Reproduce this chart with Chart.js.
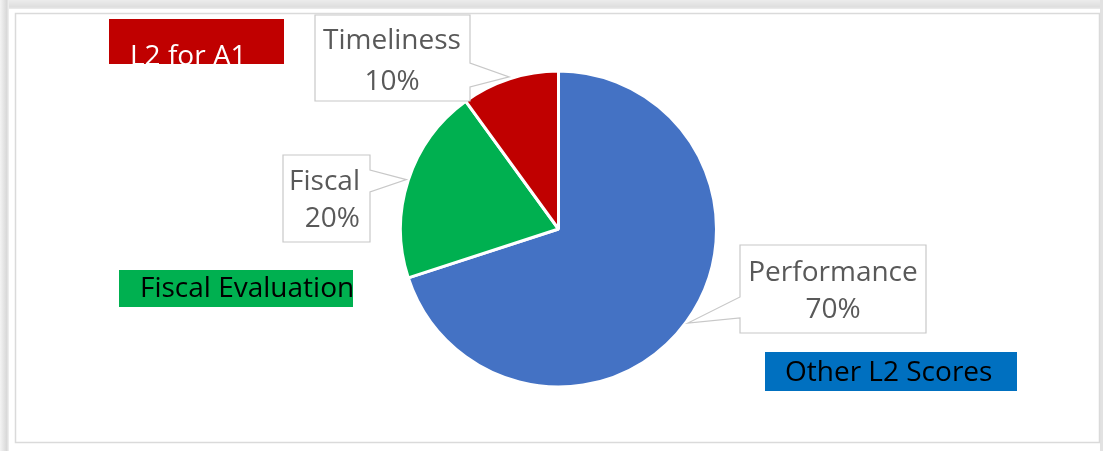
<!DOCTYPE html>
<html>
<head>
<meta charset="utf-8">
<script src="https://cdn.jsdelivr.net/npm/chart.js@4"></script>
<style>
  html, body { margin: 0; padding: 0; background: #ffffff; }
  #wrap { position: relative; width: 1103px; height: 451px; }
</style>
</head>
<body>
<div id="wrap"><canvas id="c" width="1103" height="451"></canvas></div>
<script>
// ---- data ----
const categories = ['Performance', 'Fiscal', 'Timeliness'];
const values = [70, 20, 10];
const sliceColors = ['#4472C4', '#00B050', '#C00000'];
const tagLabels = ['L2 for A1', 'Fiscal Evaluation', 'Other L2 Scores'];
const tagColors = ['#C00000', '#00B050', '#0070C0'];
const tagTextColors = ['#FFFFFF', '#000000', '#000000'];

// ---- layout (positions of annotation boxes) ----
const FONT = '28px "Open Sans"';
const calloutLayout = [
  { box: [740, 245, 926, 333], side: 'left',  wedge: [297, 318], align: 'center', x: 833, b1: 281, b2: 318 },
  { box: [283, 155, 370, 242], side: 'right', wedge: [170, 192], align: 'right',  x: 360, b1: 190, b2: 227 },
  { box: [315, 15, 470, 101],  side: 'right', wedge: [63, 87],   align: 'center', x: 392, b1: 49,  b2: 90 }
];
const tagLayout = [
  { box: [109, 19, 284, 64],  tx: 130, base: 65 },
  { box: [119, 270, 353, 307], tx: 140, base: 297 },
  { box: [765, 352, 1017, 391], tx: 785, base: 381 }
];

const framePlugin = {
  id: 'frame',
  beforeDraw(chart) {
    const ctx = chart.ctx;
    const W = chart.width, H = chart.height;
    ctx.save();
    ctx.fillStyle = '#ffffff';
    ctx.fillRect(0, 0, W, H);
    // top shadow
    let g = ctx.createLinearGradient(0, 0, 0, 10);
    g.addColorStop(0, '#ececec');
    g.addColorStop(0.7, '#dedede');
    g.addColorStop(1, '#f4f4f4');
    ctx.fillStyle = g;
    ctx.fillRect(0, 0, W, 9);
    // left shadow
    g = ctx.createLinearGradient(0, 0, 9, 0);
    g.addColorStop(0, '#f4f4f4');
    g.addColorStop(0.75, '#d8d8d8');
    g.addColorStop(1, '#f2f2f2');
    ctx.fillStyle = g;
    ctx.fillRect(0, 0, 9, H);
    // right shadow
    ctx.fillStyle = '#e2e2e2';
    ctx.fillRect(1100, 0, 3, H);
    // frame
    ctx.strokeStyle = '#dadada';
    ctx.lineWidth = 1.5;
    ctx.strokeRect(15.5, 13.5, 1084, 429);
    ctx.restore();
  },
  afterDatasetsDraw(chart) {
    const ctx = chart.ctx;
    const meta = chart.getDatasetMeta(0);
    const total = values.reduce((a, b) => a + b, 0);
    ctx.save();
    // colored tag boxes
    tagLabels.forEach((t, i) => {
      const L = tagLayout[i];
      const [x0, y0, x1, y1] = L.box;
      ctx.save();
      ctx.fillStyle = tagColors[i];
      ctx.fillRect(x0, y0, x1 - x0, y1 - y0);
      ctx.beginPath();
      ctx.rect(x0, y0, x1 - x0, y1 - y0);
      ctx.clip();
      ctx.fillStyle = tagTextColors[i];
      ctx.font = FONT;
      ctx.textAlign = 'left';
      ctx.textBaseline = 'alphabetic';
      ctx.fillText(t, L.tx, L.base);
      ctx.restore();
    });
    // callouts
    meta.data.forEach((arc, i) => {
      const L = calloutLayout[i];
      const p = arc.getProps(['x', 'y', 'startAngle', 'endAngle', 'outerRadius'], true);
      const mid = (p.startAngle + p.endAngle) / 2;
      const r = p.outerRadius + 2;
      const tx = p.x + Math.cos(mid) * r;
      const ty = p.y + Math.sin(mid) * r;
      const [x0, y0, x1, y1] = L.box;
      ctx.beginPath();
      if (L.side === 'right') {
        ctx.moveTo(x0, y0);
        ctx.lineTo(x1, y0);
        ctx.lineTo(x1, L.wedge[0]);
        ctx.lineTo(tx, ty);
        ctx.lineTo(x1, L.wedge[1]);
        ctx.lineTo(x1, y1);
        ctx.lineTo(x0, y1);
        ctx.closePath();
      } else {
        ctx.moveTo(x0, y0);
        ctx.lineTo(x1, y0);
        ctx.lineTo(x1, y1);
        ctx.lineTo(x0, y1);
        ctx.lineTo(x0, L.wedge[1]);
        ctx.lineTo(tx, ty);
        ctx.lineTo(x0, L.wedge[0]);
        ctx.closePath();
      }
      ctx.fillStyle = '#ffffff';
      ctx.fill();
      ctx.strokeStyle = '#c8c8c8';
      ctx.lineWidth = 1.2;
      ctx.stroke();
      ctx.fillStyle = '#595959';
      ctx.font = FONT;
      ctx.textAlign = L.align;
      ctx.textBaseline = 'alphabetic';
      const pct = Math.round(values[i] / total * 100) + '%';
      ctx.fillText(categories[i], L.x, L.b1);
      ctx.fillText(pct, L.x, L.b2);
    });
    ctx.restore();
  }
};

new Chart(document.getElementById('c'), {
  type: 'pie',
  data: {
    labels: categories,
    datasets: [{
      data: values,
      backgroundColor: sliceColors,
      borderColor: '#ffffff',
      borderWidth: 3
    }]
  },
  options: {
    responsive: false,
    animation: false,
    layout: { padding: { top: 69, bottom: 62, left: 399, right: 385 } },
    plugins: {
      legend: { display: false },
      tooltip: { enabled: false },
      title: { display: false }
    }
  },
  plugins: [framePlugin]
});
</script>
</body>
</html>
